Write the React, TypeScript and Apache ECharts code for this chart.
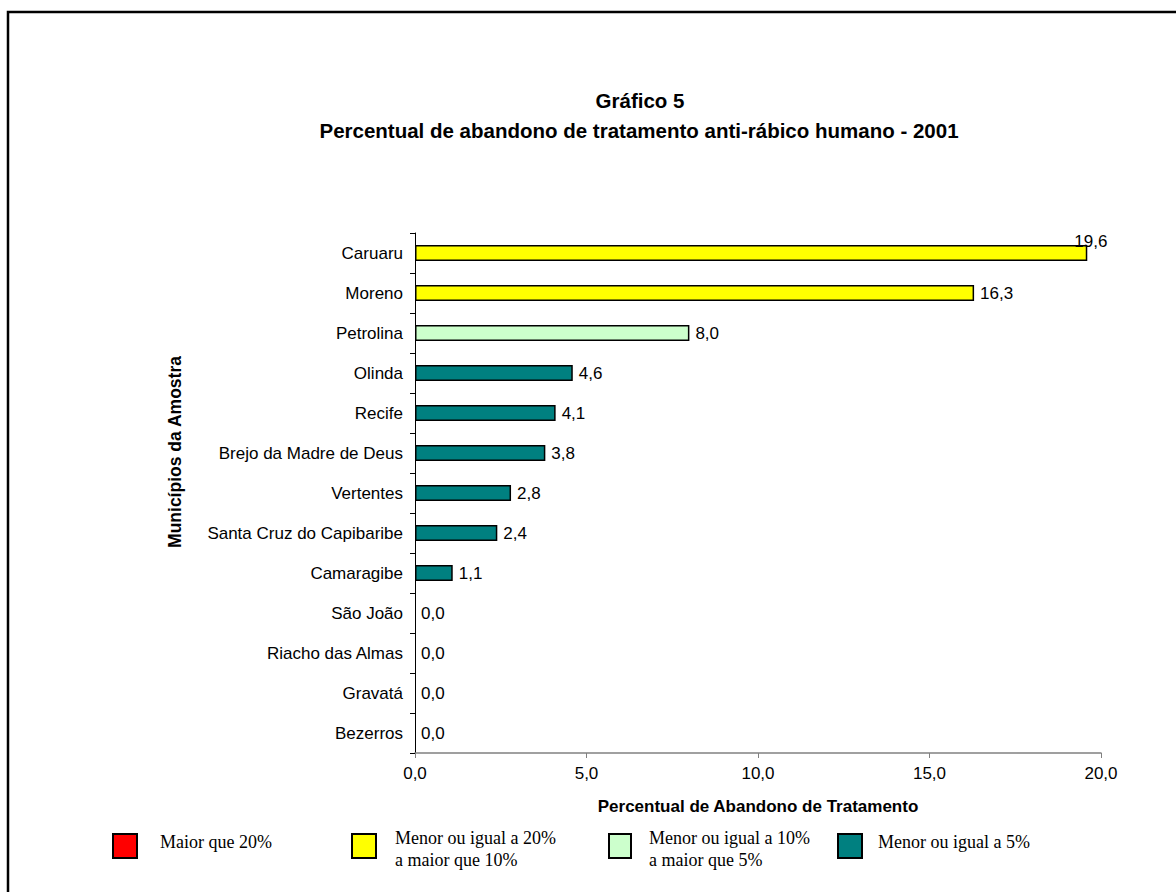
import React, { useEffect, useRef } from "react";
import * as echarts from "echarts";

const categories = [
  "Caruaru",
  "Moreno",
  "Petrolina",
  "Olinda",
  "Recife",
  "Brejo da Madre de Deus",
  "Vertentes",
  "Santa Cruz do Capibaribe",
  "Camaragibe",
  "São João",
  "Riacho das Almas",
  "Gravatá",
  "Bezerros",
];
const values = [19.6, 16.3, 8.0, 4.6, 4.1, 3.8, 2.8, 2.4, 1.1, 0, 0, 0, 0];

const legendLabels = [
  "Maior que 20%",
  "Menor ou igual a 20%\na maior que 10%",
  "Menor ou igual a 10%\na maior que 5%",
  "Menor ou igual a 5%",
];
const legendColors = ["#FF0000", "#FFFF00", "#CCFFCC", "#008080"];
const titleText = "Gráfico 5";
const subtitleText = "Percentual de abandono de tratamento anti-rábico humano - 2001";

function colorFor(v: number): string {
  if (v > 20) return legendColors[0];
  if (v > 10) return legendColors[1];
  if (v > 5) return legendColors[2];
  return legendColors[3];
}

const fmt = (v: number) => v.toFixed(1).replace(".", ",");

export default function App() {
  const ref = useRef<HTMLDivElement>(null);
  useEffect(() => {
    document.body.style.margin = "0";
    document.body.style.overflow = "hidden";
    const chart = echarts.init(ref.current!, null, { renderer: "svg" });
    const sans = "'Liberation Sans', Arial, sans-serif";
    const serif = "'Liberation Serif', 'Times New Roman', serif";
    const legendX = [113, 352, 609, 838];
    const legendTextX = [160, 395, 649, 878];
    const graphics: any[] = [
      {
        type: "rect",
        shape: { x: 8, y: 12, width: 1300, height: 1000 },
        style: { fill: "none", stroke: "#000", lineWidth: 2.5 },
        silent: true,
      },
      {
        type: "text",
        x: 640,
        y: 100,
        style: {
          text: titleText,
          font: `bold 20.5px ${sans}`,
          fill: "#000",
          textAlign: "center",
          textVerticalAlign: "middle",
        },
      },
      {
        type: "text",
        x: 639,
        y: 130,
        style: {
          text: subtitleText,
          font: `bold 20.5px ${sans}`,
          fill: "#000",
          textAlign: "center",
          textVerticalAlign: "middle",
        },
      },
      {
        type: "text",
        x: 175,
        y: 452,
        rotation: Math.PI / 2,
        style: {
          text: "Municípios da Amostra",
          font: `bold 17.5px ${sans}`,
          fill: "#000",
          textAlign: "center",
          textVerticalAlign: "middle",
        },
      },
    ];
    legendLabels.forEach((lab, i) => {
      const twoLines = lab.indexOf("\n") >= 0;
      graphics.push({
        type: "rect",
        shape: { x: legendX[i], y: 834, width: i === 2 ? 22 : 24, height: 24 },
        style: { fill: legendColors[i], stroke: "#000", lineWidth: 2 },
      });
      graphics.push({
        type: "text",
        x: legendTextX[i],
        y: twoLines ? 827 : 831,
        style: {
          text: lab,
          font: `18px ${serif}`,
          fill: "#000",
          lineHeight: 22,
          textVerticalAlign: "top",
        },
      });
    });

    chart.setOption({
      animation: false,
      backgroundColor: "#fff",
      grid: { left: 415, right: 75, top: 233, bottom: 139, containLabel: false },
      xAxis: {
        type: "value",
        min: 0,
        max: 20,
        interval: 5,
        name: "Percentual de Abandono de Tratamento",
        nameLocation: "middle",
        nameGap: 45,
        nameTextStyle: { fontFamily: sans, fontWeight: "bold", fontSize: 17, color: "#000" },
        axisLine: { show: true, lineStyle: { color: "#808080", width: 1.5 } },
        axisTick: { show: true, length: 5, lineStyle: { color: "#808080" } },
        splitLine: { show: false },
        axisLabel: {
          margin: 12,
          color: "#000",
          fontFamily: sans,
          fontSize: 17,
          formatter: (v: number) => fmt(v),
        },
      },
      yAxis: {
        type: "category",
        data: categories,
        inverse: true,
        axisLine: { show: true, lineStyle: { color: "#000", width: 1 } },
        axisTick: { show: true, length: 5, lineStyle: { color: "#000" } },
        axisLabel: { margin: 12, color: "#000", fontFamily: sans, fontSize: 17 },
      },
      series: [
        {
          type: "bar",
          barWidth: 16,
          data: values.map((v, i) => ({
            value: v,
            itemStyle: {
              color: v === 0 ? "rgba(0,0,0,0)" : colorFor(v),
              borderColor: v === 0 ? "rgba(0,0,0,0)" : "#000",
              borderWidth: v === 0 ? 0 : 1.5,
            },
            label:
              i === 0
                ? { show: true, position: "right", distance: 6, offset: [-19, -12] }
                : undefined,
          })),
          label: {
            show: true,
            position: "right",
            distance: 6,
            color: "#000",
            fontFamily: sans,
            fontSize: 17,
            formatter: (p: any) => fmt(p.value),
          },
        },
      ],
      graphic: graphics,
    });
    return () => chart.dispose();
  }, []);
  return <div ref={ref} style={{ width: 1176, height: 892 }} />;
}
